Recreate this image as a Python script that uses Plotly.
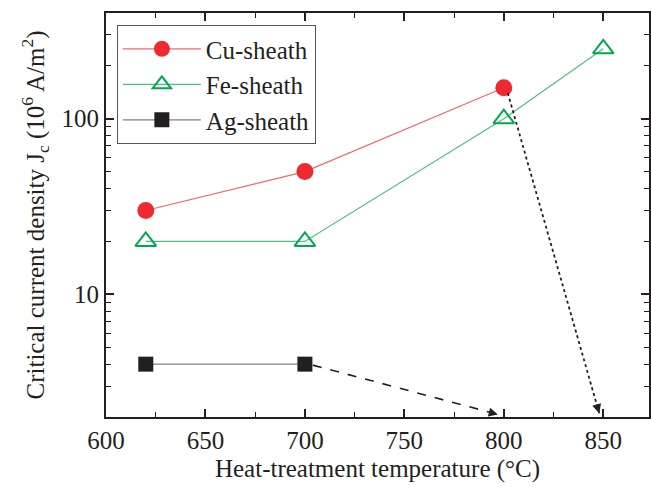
import math
import plotly.graph_objects as go

# ---- data ----
cu_temp = [620, 700, 800]
cu_jc = [30, 50, 150]
fe_temp = [620, 700, 800, 850]
fe_jc = [20, 20, 100, 250]
ag_temp = [620, 700]
ag_jc = [4, 4]

# arrows: (start_x, start_y) -> (end_x, end_y)
ag_arrow_x = [704, 797]
ag_arrow_y = [3.95, 2.07]
cu_arrow_x = [802, 848]
cu_arrow_y = [140, 2.1]

x_ticks = [600, 650, 700, 750, 800, 850]
y_ticks = [10, 100]
y_minor = [2, 3, 4, 5, 6, 7, 8, 9, 20, 30, 40, 50, 60, 70, 80, 90, 200, 300, 400]

FONT = "Liberation Serif"
FS = 25
RED = "#ee2a30"
RED_LINE = "#f0686c"
GREEN = "#00a84f"
GREEN_LINE = "#4cc17e"
BLACK = "#231f20"
GRAY = "#7f7f7f"

fig = go.Figure()
fig.add_trace(go.Scatter(
    x=cu_temp, y=cu_jc, mode="lines+markers", name="Cu-sheath",
    line=dict(color=RED_LINE, width=1.2),
    marker=dict(symbol="circle", size=17, color=RED, line=dict(width=0))))
fig.add_trace(go.Scatter(
    x=fe_temp, y=fe_jc, mode="lines+markers", name="Fe-sheath",
    line=dict(color=GREEN_LINE, width=1.2),
    marker=dict(symbol="triangle-up-open", size=18, color=GREEN, line=dict(width=2, color=GREEN))))
fig.add_trace(go.Scatter(
    x=ag_temp, y=ag_jc, mode="lines+markers", name="Ag-sheath",
    line=dict(color=GRAY, width=1.2),
    marker=dict(symbol="square", size=15, color=BLACK, line=dict(width=0))))

# dashed / dotted arrow shafts
fig.add_trace(go.Scatter(x=ag_arrow_x, y=ag_arrow_y, mode="lines", showlegend=False,
                         line=dict(color=BLACK, width=1.6, dash="dash"), hoverinfo="skip"))
fig.add_trace(go.Scatter(x=cu_arrow_x, y=cu_arrow_y, mode="lines", showlegend=False,
                         line=dict(color=BLACK, width=1.8, dash="dot"), hoverinfo="skip"))

# arrowheads
for xs, ys, ax, ay in [(ag_arrow_x, ag_arrow_y, -8, -2), (cu_arrow_x, cu_arrow_y, -2.4, -8)]:
    fig.add_annotation(x=xs[1], y=math.log10(ys[1]), xref="x", yref="y",
                       ax=ax, ay=ay, showarrow=True, arrowhead=2, arrowsize=1.3,
                       arrowwidth=1.4, arrowcolor=BLACK, text="")

axis_common = dict(
    showline=True, linecolor=BLACK, linewidth=2, mirror="ticks",
    ticks="inside", ticklen=8, tickwidth=1.5, tickcolor=BLACK,
    showgrid=False, zeroline=False,
    tickfont=dict(family=FONT, size=FS, color=BLACK),
)

fig.update_xaxes(
    range=[600, 873], tickvals=x_ticks,
    minor=dict(dtick=25, tick0=600, ticks="inside", ticklen=5, tickwidth=1.2, tickcolor=BLACK),
    title=dict(text="Heat-treatment temperature (°C)", font=dict(family=FONT, size=FS, color=BLACK), standoff=6),
    **axis_common)
fig.update_yaxes(
    type="log", range=[math.log10(2), math.log10(400)], tickvals=y_ticks,
    minor=dict(tickvals=y_minor, ticks="inside", ticklen=5, tickwidth=1.2, tickcolor=BLACK),
    title=dict(text="Critical current density J<sub>c</sub> (10<sup>6</sup> A/m<sup>2</sup>)",
               font=dict(family=FONT, size=FS, color=BLACK), standoff=10),
    **axis_common)

fig.update_layout(
    width=651, height=490,
    margin=dict(l=106, r=0, t=13, b=73),
    paper_bgcolor="white", plot_bgcolor="white",
    font=dict(family=FONT, color=BLACK),
    legend=dict(x=0.02, y=0.97, xanchor="left", yanchor="top",
                bordercolor="#555555", borderwidth=1, bgcolor="white",
                font=dict(family=FONT, size=FS, color=BLACK),
                itemwidth=78, tracegroupgap=0),
)

fig.write_html("out.html")
